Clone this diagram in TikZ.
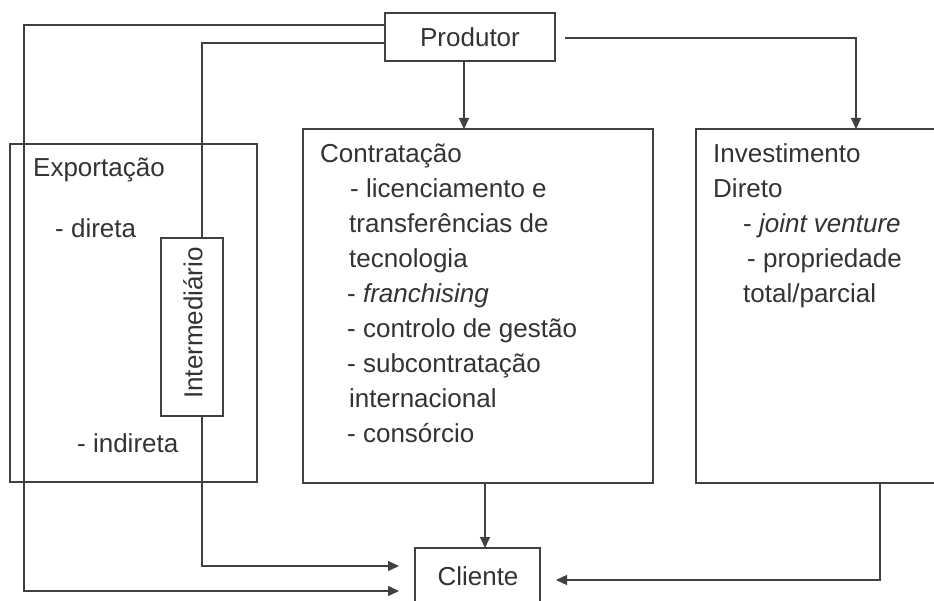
\documentclass[tikz,border=0pt]{standalone}
\usepackage{fontspec}
\setmainfont{Liberation Sans}
\usetikzlibrary{arrows.meta}
\begin{document}
\begin{tikzpicture}[x=1pt,y=-1pt,
  ln/.style={draw=black!75, line width=1.3pt},
  arr/.style={ln, -{Triangle[length=11pt,width=10pt]}},
  box/.style={draw=black!75, line width=1.3pt, fill=white, inner sep=0pt},
  txt/.style={anchor=base west, inner sep=0pt, text=black!80, font=\fontsize{26}{35}\selectfont},
  ctxt/.style={inner sep=0pt, text=black!80, font=\fontsize{26}{35}\selectfont}]
\clip (0,0) rectangle (934,601);
\fill[white] (0,0) rectangle (934,601);

% boxes
\node[box, minimum width=170pt, minimum height=48pt] (prod) at (470,37) {};
\node[ctxt] (prodt) at (470,37) {Produtor};
\node[box, fill=none, minimum width=247pt, minimum height=338pt] (exp) at (133.5,313) {};
\node[box, minimum width=350pt, minimum height=354pt] (con) at (478,306) {};
\node[box, minimum width=249pt, minimum height=354pt] (inv) at (820.5,306) {};
\node[box, minimum width=125pt, minimum height=56pt] (cli) at (477.5,576) {};
\node[ctxt] (clit) at (478,576) {Cliente};

% connectors
\coordinate (a1) at (399,591);
\coordinate (a2) at (399,566);
\draw[arr] (prod.west |- 0,25) -- (24,25) -- (24,591) -- (a1);
\draw[arr] (prod.west |- 0,43) -- (202,43) -- (202,566) -- (a2);
\draw[arr] (464,61) -- (464,129);
\draw[arr] (565,38) -- (856,38) -- (856,129);
\draw[arr] (485,483) -- (485,548);
\draw[arr] (880,483) -- (880,580) -- (556,580);

% intermediario
\node[box, rotate=90, minimum width=178pt, minimum height=62pt] (inter) at (192,327) {};
\node[ctxt, rotate=90] (intert) at (193,323) {Intermediário};

% Exportacao texts
\node[txt] (e1) at (33,177) {Exportação};
\node[txt] (e2) at (55,238) {- direta};
\node[txt] (e3) at (77,452) {- indireta};

% Contratacao texts
\node[txt] (c0) at (320,163) {Contratação};
\node[txt] (c1) at (350,198) {- licenciamento e};
\node[txt] (c2) at (349,233) {transferências de};
\node[txt] (c3) at (349,268) {tecnologia};
\node[txt] (c4) at (347,303) {- \textit{franchising}};
\node[txt] (c5) at (347,338) {- controlo de gestão};
\node[txt] (c6) at (347,372) {- subcontratação};
\node[txt] (c7) at (349,407) {internacional};
\node[txt] (c8) at (347,442) {- consórcio};

% Investimento texts
\node[txt] (i0) at (713,163) {Investimento};
\node[txt] (i1) at (713,198) {Direto};
\node[txt] (i2) at (743,233) {- \textit{joint venture}};
\node[txt] (i3) at (747,268) {- propriedade};
\node[txt] (i4) at (743,303) {total/parcial};
\end{tikzpicture}
\end{document}
